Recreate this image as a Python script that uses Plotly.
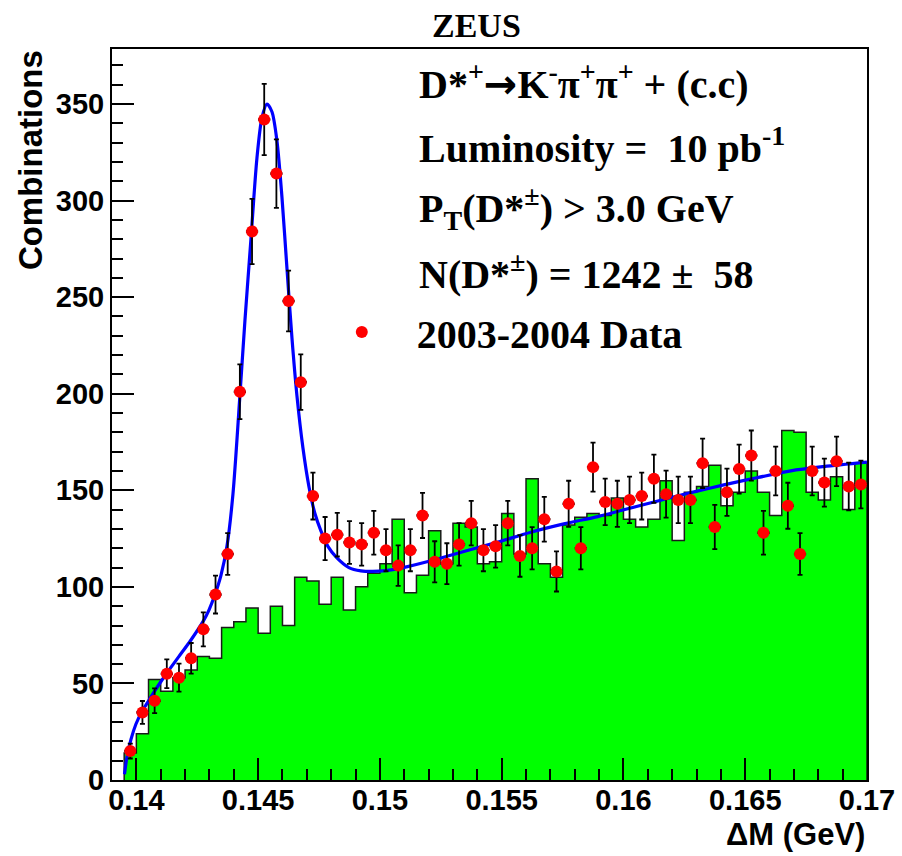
import numpy as np
import plotly.graph_objects as go

# ---------------- data ----------------
BIN_LO = 0.1395
BIN_W = 0.0005

# 2003-2004 data (combinations per bin), 61 bins from 0.1395 to 0.17 GeV
data_counts = [15, 35, 41, 55, 53, 63, 78, 96, 117, 201,
               284, 342, 314, 248, 206, 147, 125, 127, 123, 122,
               128, 119, 111, 119, 137, 113, 112, 122, 133, 119,
               121, 133, 116, 120, 135, 108, 143, 120, 162, 144,
               143, 145, 147, 156, 148, 145, 145, 164, 131, 149,
               161, 168, 128, 160, 142, 117, 160, 154, 165, 152,
               153]

# background histogram (green, wrong-charge combinations)
bkg_counts = [14, 24, 52, 46, 53, 57, 64, 63, 79, 82,
              89, 76, 90, 80, 105, 103, 91, 105, 88, 100,
              107, 112, 135, 97, 106, 129, 112, 133, 131, 112,
              113, 138, 117, 156, 112, 105, 132, 136, 138, 137,
              146, 135, 131, 135, 155, 124, 149, 152, 163, 142,
              149, 160, 149, 137, 181, 180, 149, 145, 157, 140,
              164]

# fit curve
fit_dm = [0.139512, 0.139615, 0.139779, 0.139984, 0.140231, 0.140477, 0.140723,
          0.141011, 0.141257, 0.141750, 0.142242, 0.142735, 0.142981, 0.143227,
          0.143474, 0.143720, 0.143966, 0.144241, 0.144459, 0.144705, 0.144951,
          0.145157, 0.145362, 0.145567, 0.145772, 0.145977, 0.146183, 0.146388,
          0.146593, 0.146839, 0.147085, 0.147332, 0.147578, 0.147865, 0.148235,
          0.148727, 0.149220, 0.149713, 0.150246, 0.150862, 0.152094, 0.153448,
          0.154844, 0.156199, 0.157553, 0.158949, 0.160016, 0.161412, 0.162767,
          0.164122, 0.165517, 0.166872, 0.168227, 0.170000]
fit_val = [3, 12, 21, 29, 35.5, 40.5, 45.5,
           51, 55.5, 64, 72.5, 82, 88, 96,
           106, 121, 148, 197, 238, 280, 322,
           343, 350, 346, 331, 302, 265, 229,
           199, 172, 152, 138, 129, 121, 115,
           110, 108.3, 108, 108.4, 109.7, 113.5, 118.3,
           123.2, 128.3, 132.6, 136.4, 139.9, 144.5, 148.8,
           152.8, 156.6, 160.1, 162.3, 164.6]

x_tick_vals = [0.14, 0.145, 0.15, 0.155, 0.16, 0.165, 0.17]
x_tick_text = ["0.14", "0.145", "0.15", "0.155", "0.16", "0.165", "0.17"]
y_tick_vals = [0, 50, 100, 150, 200, 250, 300, 350]
y_tick_text = ["0", "50", "100", "150", "200", "250", "300", "350"]

ARROW = '<span style="font-family:DejaVu Sans">→</span>'
info_lines = [
    "D*<sup>+</sup>" + ARROW + "K<sup>-</sup>π<sup>+</sup>π<sup>+</sup> + (c.c)",
    "Luminosity =  10 pb<sup>-1</sup>",
    "P<sub>T</sub>(D*<sup>±</sup>) &gt; 3.0 GeV",
    "N(D*<sup>±</sup>) = 1242 ±  58",
]
data_label = "2003-2004 Data"

# ---------------- derived ----------------
n = len(data_counts)
centers = BIN_LO + BIN_W * (np.arange(n) + 0.5)
edges = BIN_LO + BIN_W * np.arange(n + 1)
errs = np.sqrt(np.array(data_counts, dtype=float))

hx = [edges[0]] + list(edges) + [edges[-1]]
hy = [0] + list(bkg_counts) + [bkg_counts[-1], 0]

fig = go.Figure()

fig.add_trace(go.Scatter(
    x=hx, y=hy, mode="lines", line_shape="hv",
    line=dict(color="#1a1a1a", width=1.5),
    fill="tozeroy", fillcolor="#00ff00",
    showlegend=False, hoverinfo="skip"))

fig.add_trace(go.Scatter(
    x=fit_dm, y=fit_val, mode="lines", line_shape="spline",
    line=dict(color="#0000ff", width=3.2, smoothing=0.8),
    showlegend=False, hoverinfo="skip"))

fig.add_trace(go.Scatter(
    x=centers, y=data_counts, mode="markers", name=data_label,
    marker=dict(color="#ff0000", size=12, symbol="circle"),
    error_y=dict(type="data", array=errs, color="black", thickness=1.8, width=2.5),
    error_x=dict(type="constant", value=BIN_W / 2, color="black", thickness=2.5, width=0),
    showlegend=True))

minor_x = [round(0.139 + 0.001 * i, 3) for i in range(32)]

TXT = 40
fig.update_layout(
    width=902, height=856,
    margin=dict(l=112, r=35, t=49, b=76),
    paper_bgcolor="white", plot_bgcolor="white",
    showlegend=True,
    legend=dict(x=0.258, y=0.613, xanchor="left", yanchor="middle",
                bgcolor="rgba(0,0,0,0)", itemwidth=100,
                font=dict(family="Liberation Serif", size=TXT, color="black", weight="bold")),
    xaxis=dict(range=[0.139, 0.17], showgrid=False, zeroline=False,
               showline=True, linecolor="black", linewidth=2, mirror=True,
               ticks="inside", ticklen=22, tickwidth=1.5, tickcolor="black",
               tickmode="array", tickvals=x_tick_vals, ticktext=x_tick_text,
               ticklabelstandoff=-7, automargin=False,
               tickfont=dict(family="Liberation Sans", size=29, color="black", weight="bold"),
               minor=dict(ticks="inside", ticklen=11, tickwidth=1.5, tickcolor="black",
                          tickmode="array", tickvals=minor_x, showgrid=False)),
    yaxis=dict(range=[0, 378.5], showgrid=False, zeroline=False,
               showline=True, linecolor="black", linewidth=2, mirror=True,
               ticks="inside", ticklen=22, tickwidth=1.5, tickcolor="black",
               tickmode="array", tickvals=y_tick_vals, ticktext=y_tick_text,
               automargin=False,
               tickfont=dict(family="Liberation Sans", size=29, color="black", weight="bold"),
               minor=dict(ticks="inside", ticklen=11, tickwidth=1.5, tickcolor="black",
                          dtick=10, tick0=0, showgrid=False)),
)

ann = []
ys = [0.955, 0.868, 0.782, 0.695]
for t, yy in zip(info_lines, ys):
    ann.append(dict(text=t, x=0.404, y=yy, xref="paper", yref="paper",
                    xanchor="left", yanchor="middle", showarrow=False,
                    font=dict(family="Liberation Serif", size=TXT, color="black", weight="bold")))
ann.append(dict(text="ZEUS", x=0.4834, y=1.0315, xref="paper", yref="paper",
                xanchor="center", yanchor="middle", showarrow=False,
                font=dict(family="Liberation Serif", size=34, color="black", weight="bold")))
ann.append(dict(text="Combinations", x=-0.1086, y=0.848, xref="paper", yref="paper",
                xanchor="center", yanchor="middle", textangle=-90, showarrow=False,
                font=dict(family="Liberation Sans", size=33, color="black", weight="bold")))
ann.append(dict(text="ΔM (GeV)", x=1.0, y=-0.075, xref="paper", yref="paper",
                xanchor="right", yanchor="middle", showarrow=False,
                font=dict(family="Liberation Sans", size=31, color="black", weight="bold")))
fig.update_layout(annotations=ann)

fig.write_html("out.html")
